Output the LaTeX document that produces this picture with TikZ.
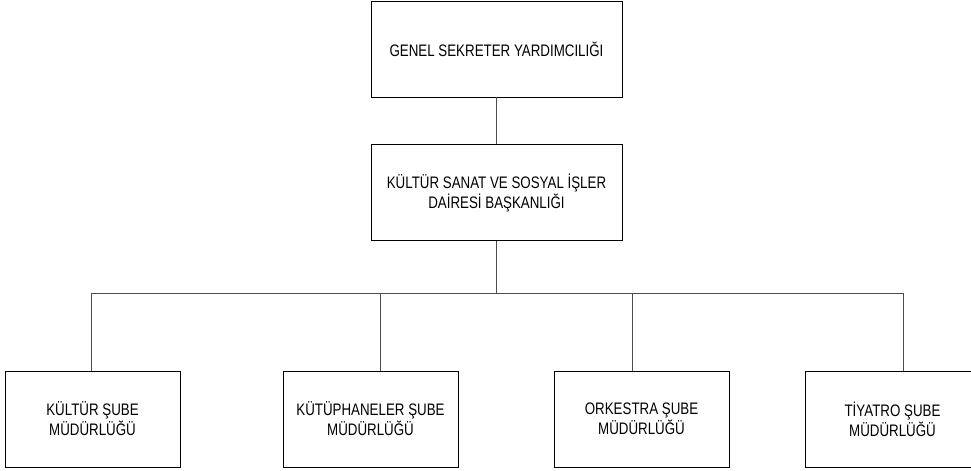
\documentclass[tikz,border=0pt]{standalone}
\usepackage{fontspec}
\setmainfont[FakeStretch=0.8]{Liberation Sans}
\usetikzlibrary{positioning}

\begin{document}
\begin{tikzpicture}[
  x=0.75pt, y=-0.75pt,
  node distance=35.25pt,
  unit/.style={rectangle, draw=black, line width=0.6pt, minimum height=72pt,
               align=center, font=\fontsize{12.5}{15}\selectfont, inner sep=2pt},
  topunit/.style={unit, minimum width=188.25pt},
  subunit/.style={unit, minimum width=131.25pt},
  conn/.style={draw=black!70, line width=0.5pt},
]
  \useasboundingbox (0,0) rectangle (971,471);
  \node[topunit] (gsy) at (496.5,49) {GENEL SEKRETER YARDIMCILIĞI};
  \node[topunit, below=of gsy] (kssb) {KÜLTÜR SANAT VE SOSYAL İŞLER\\DAİRESİ BAŞKANLIĞI};
  \coordinate (bus) at (496.5,293);
  \node[subunit] (kultur) at (92.5,419) {KÜLTÜR ŞUBE\\MÜDÜRLÜĞÜ};
  \node[subunit] (kutup) at (370.5,419) {KÜTÜPHANELER ŞUBE\\MÜDÜRLÜĞÜ};
  \node[subunit] (orkestra) at (641.5,419) {ORKESTRA ŞUBE\\MÜDÜRLÜĞÜ};
  \node[subunit] (tiyatro) at (892.5,419) {TİYATRO ŞUBE\\MÜDÜRLÜĞÜ};
  \draw[conn] (gsy) -- (kssb);
  \draw[conn] (kssb.south) -- (bus);
  \draw[conn] ([xshift=-1.125pt]kultur.north) |- (bus);
  \draw[conn] ([xshift=7.125pt]kutup.north) |- (bus);
  \draw[conn] ([xshift=-7.125pt]orkestra.north) |- (bus);
  \draw[conn] ([xshift=7.875pt]tiyatro.north) |- (bus);
\end{tikzpicture}
\end{document}
